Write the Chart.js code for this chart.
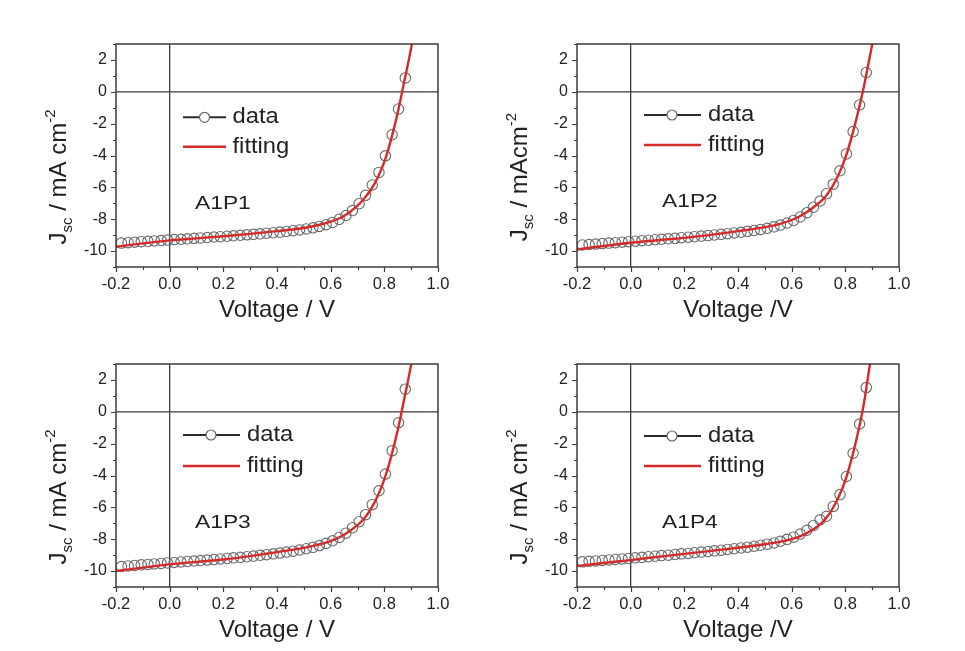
<!DOCTYPE html>
<html>
<head>
<meta charset="utf-8">
<script src="https://cdn.jsdelivr.net/npm/chart.js@4.4.0/dist/chart.umd.min.js"></script>
<style>
  html, body { margin: 0; padding: 0; background: #fff; }
  #wrap { position: relative; width: 965px; height: 651px; }
  #wrap canvas { position: absolute; left: 0; top: 0; }
</style>
</head>
<body>
<div id="wrap">
  <canvas id="p1" width="965" height="651"></canvas>
  <canvas id="p2" width="965" height="651"></canvas>
  <canvas id="p3" width="965" height="651"></canvas>
  <canvas id="p4" width="965" height="651"></canvas>
</div>
<script>
// measured points (V)
const dataVoltage = [-0.18, -0.155, -0.131, -0.106, -0.081, -0.057, -0.032, -0.008, 0.017, 0.042,
  0.066, 0.091, 0.115, 0.140, 0.165, 0.189, 0.214, 0.238, 0.263, 0.288,
  0.312, 0.337, 0.361, 0.386, 0.411, 0.435, 0.460, 0.484, 0.509, 0.534,
  0.558, 0.583, 0.607, 0.632, 0.657, 0.681, 0.706, 0.730, 0.755, 0.780,
  0.804, 0.829, 0.853, 0.878];
// fitted curve (V)
const fitVoltage = [-0.2, -0.1, 0, 0.1, 0.2, 0.3, 0.4, 0.5, 0.55, 0.6,
  0.65, 0.7, 0.725, 0.75, 0.775, 0.8, 0.825, 0.85, 0.87, 0.89, 0.91];

// current density (mA cm-2)
const a1p1Data = [-9.50, -9.47, -9.44, -9.41, -9.39, -9.36, -9.34, -9.31, -9.28, -9.26,
  -9.23, -9.20, -9.18, -9.15, -9.12, -9.10, -9.07, -9.04, -9.01, -8.98,
  -8.95, -8.92, -8.88, -8.85, -8.81, -8.77, -8.72, -8.67, -8.61, -8.54,
  -8.45, -8.34, -8.20, -8.01, -7.77, -7.46, -7.03, -6.50, -5.85, -5.06,
  -4.02, -2.70, -1.08, 0.87];
const a1p1Fit = [-9.73, -9.52, -9.33, -9.20, -9.07, -8.92, -8.75, -8.55, -8.38, -8.15,
  -7.80, -7.15, -6.70, -6.15, -5.40, -4.40, -3.00, -1.30, 0.30, 1.90, 3.60];

const a1p2Data = [-9.62, -9.59, -9.56, -9.53, -9.50, -9.47, -9.44, -9.41, -9.38, -9.35,
  -9.32, -9.29, -9.26, -9.23, -9.20, -9.16, -9.13, -9.10, -9.06, -9.03,
  -8.99, -8.95, -8.91, -8.86, -8.82, -8.76, -8.71, -8.64, -8.57, -8.48,
  -8.37, -8.24, -8.08, -7.86, -7.59, -7.25, -6.86, -6.40, -5.80, -4.96,
  -3.90, -2.50, -0.83, 1.21];
const a1p2Fit = [-9.90, -9.68, -9.48, -9.32, -9.17, -8.98, -8.75, -8.50, -8.32, -8.05,
  -7.62, -7.00, -6.60, -6.00, -5.20, -4.15, -2.75, -1.10, 0.40, 2.10, 3.80];

const a1p3Data = [-9.72, -9.68, -9.65, -9.61, -9.58, -9.55, -9.52, -9.49, -9.46, -9.43,
  -9.40, -9.37, -9.34, -9.31, -9.28, -9.24, -9.21, -9.17, -9.14, -9.10,
  -9.06, -9.01, -8.97, -8.92, -8.87, -8.81, -8.75, -8.68, -8.60, -8.51,
  -8.40, -8.26, -8.10, -7.89, -7.62, -7.28, -6.90, -6.46, -5.83, -4.96,
  -3.91, -2.44, -0.69, 1.42];
const a1p3Fit = [-10.00, -9.78, -9.58, -9.42, -9.27, -9.06, -8.81, -8.54, -8.36, -8.12,
  -7.72, -7.12, -6.70, -6.10, -5.30, -4.25, -2.85, -1.15, 0.45, 2.10, 3.80];

const a1p4Data = [-9.42, -9.39, -9.36, -9.33, -9.30, -9.27, -9.24, -9.21, -9.17, -9.14,
  -9.10, -9.07, -9.03, -9.00, -8.96, -8.92, -8.89, -8.85, -8.81, -8.77,
  -8.73, -8.69, -8.64, -8.60, -8.55, -8.50, -8.44, -8.38, -8.31, -8.23,
  -8.13, -8.01, -7.87, -7.68, -7.44, -7.14, -6.78, -6.56, -5.94, -5.20,
  -4.06, -2.60, -0.77, 1.52];
const a1p4Fit = [-9.69, -9.49, -9.31, -9.11, -8.92, -8.73, -8.54, -8.32, -8.18, -8.00,
  -7.68, -7.15, -6.75, -6.15, -5.35, -4.30, -2.85, -1.10, 0.60, 2.80, 4.80];

const legendNames = ['data', 'fitting'];

const panels = [
  { id: 'p1', name: 'A1P1', data: a1p1Data, fit: a1p1Fit, unit: ' / mA cm', xTitle: 'Voltage / V',
    box: { left: 116, top: 44, right: 438, bottom: 267 },
    legend: { x0: 67, x1: 110, mark: 88.5, text: 116.5, y1: 73.3, y2: 102.7 }, label: { x: 79, y: 160 } },
  { id: 'p2', name: 'A1P2', data: a1p2Data, fit: a1p2Fit, unit: ' / mAcm', xTitle: 'Voltage /V',
    box: { left: 577, top: 44, right: 899, bottom: 267 },
    legend: { x0: 67, x1: 124, mark: 95, text: 131, y1: 71, y2: 101 }, label: { x: 85, y: 158 } },
  { id: 'p3', name: 'A1P3', data: a1p3Data, fit: a1p3Fit, unit: ' / mA cm', xTitle: 'Voltage / V',
    box: { left: 116, top: 364, right: 438, bottom: 587 },
    legend: { x0: 67, x1: 124, mark: 95, text: 131, y1: 71, y2: 102 }, label: { x: 79, y: 159 } },
  { id: 'p4', name: 'A1P4', data: a1p4Data, fit: a1p4Fit, unit: ' / mA cm', xTitle: 'Voltage /V',
    box: { left: 577, top: 364, right: 899, bottom: 587 },
    legend: { x0: 67, x1: 124, mark: 95, text: 131, y1: 72, y2: 102 }, label: { x: 85, y: 159 } }
];

const SANS = '"Liberation Sans", Arial, sans-serif';
const Y_AXIS_W = 70;
const X_AXIS_H = 60;

const isMajorX = (v) => Math.round(v * 10) % 2 === 0;
const isMajorY = (v) => Math.round(v) % 2 === 0;

function wideText(ctx, txt, x, y, sx) {
  ctx.save();
  ctx.translate(x, y);
  ctx.scale(sx, 1);
  ctx.fillText(txt, 0, 0);
  ctx.restore();
}

const decor = {
  id: 'decor',
  beforeDatasetsDraw(chart) {
    const ctx = chart.ctx, a = chart.chartArea;
    const x0 = chart.scales.x.getPixelForValue(0);
    const y0 = chart.scales.y.getPixelForValue(0);
    ctx.save();
    ctx.strokeStyle = '#3c3c3c';
    ctx.lineWidth = 1.3;
    ctx.beginPath();
    ctx.moveTo(x0, a.top); ctx.lineTo(x0, a.bottom);
    ctx.moveTo(a.left, y0); ctx.lineTo(a.right, y0);
    ctx.stroke();
    ctx.restore();
  },
  afterDraw(chart, args, opts) {
    const ctx = chart.ctx, a = chart.chartArea;
    const xs = chart.scales.x, ys = chart.scales.y;
    const p = opts.panel;
    ctx.save();
    // frame
    ctx.strokeStyle = '#3c3c3c';
    ctx.lineWidth = 1.5;
    ctx.strokeRect(a.left, a.top, a.right - a.left, a.bottom - a.top);
    // outward ticks
    ctx.lineWidth = 1.2;
    ctx.beginPath();
    xs.ticks.forEach(t => {
      const px = Math.round(xs.getPixelForValue(t.value)) + 0.5;
      ctx.moveTo(px, a.bottom);
      ctx.lineTo(px, a.bottom + (isMajorX(t.value) ? 5 : 3));
    });
    ys.ticks.forEach(t => {
      const py = Math.round(ys.getPixelForValue(t.value)) + 0.5;
      ctx.moveTo(a.left, py);
      ctx.lineTo(a.left - (isMajorY(t.value) ? 5 : 3), py);
    });
    ctx.stroke();

    ctx.fillStyle = '#222';
    // x title
    ctx.font = '24px ' + SANS;
    ctx.textAlign = 'center';
    ctx.textBaseline = 'alphabetic';
    ctx.fillText(p.xTitle, (a.left + a.right) / 2, a.bottom + 50);

    // y title: J_sc / mA cm^-2
    const big = '24px ' + SANS, small = '15px ' + SANS;
    ctx.save();
    ctx.translate(a.left - 50, a.top + 133);
    ctx.rotate(-Math.PI / 2);
    ctx.textAlign = 'left';
    ctx.font = big; const wJ = ctx.measureText('J').width; const wU = ctx.measureText(p.unit).width;
    ctx.font = small; const wS = ctx.measureText('sc').width; const wP = ctx.measureText('-2').width;
    let cx = -(wJ + wS + wU + wP) / 2;
    ctx.font = big; ctx.fillText('J', cx, 0); cx += wJ;
    ctx.font = small; ctx.fillText('sc', cx, 6); cx += wS;
    ctx.font = big; ctx.fillText(p.unit, cx, 0); cx += wU;
    ctx.font = small; ctx.fillText('-2', cx, -11);
    ctx.restore();

    // legend
    const L = p.legend;
    ctx.lineWidth = 2;
    ctx.strokeStyle = '#2a2a2a';
    ctx.beginPath();
    ctx.moveTo(a.left + L.x0, a.top + L.y1); ctx.lineTo(a.left + L.x1, a.top + L.y1);
    ctx.stroke();
    ctx.beginPath();
    ctx.arc(a.left + L.mark, a.top + L.y1, 5, 0, Math.PI * 2);
    ctx.fillStyle = '#fff';
    ctx.fill();
    ctx.lineWidth = 1.2;
    ctx.strokeStyle = '#666';
    ctx.stroke();
    ctx.lineWidth = 2.4;
    ctx.strokeStyle = '#d42a2a';
    ctx.beginPath();
    ctx.moveTo(a.left + L.x0, a.top + L.y2); ctx.lineTo(a.left + L.x1, a.top + L.y2);
    ctx.stroke();
    ctx.fillStyle = '#222';
    ctx.font = '22px ' + SANS;
    ctx.textAlign = 'left';
    wideText(ctx, legendNames[0], a.left + L.text, a.top + L.y1 + 6, 1.08);
    wideText(ctx, legendNames[1], a.left + L.text, a.top + L.y2 + 6, 1.08);

    // sample label
    ctx.font = '19px ' + SANS;
    ctx.textBaseline = 'middle';
    wideText(ctx, p.name, a.left + p.label.x, a.top + p.label.y, 1.2);
    ctx.restore();
  }
};

panels.forEach(p => {
  const b = p.box;
  new Chart(document.getElementById(p.id), {
    type: 'scatter',
    data: {
      datasets: [
        {
          label: legendNames[1],
          data: fitVoltage.map((v, i) => ({ x: v, y: p.fit[i] })),
          showLine: true,
          borderColor: '#d42a2a',
          borderWidth: 2.4,
          pointRadius: 0,
          cubicInterpolationMode: 'monotone',
          order: 0
        },
        {
          label: legendNames[0],
          data: dataVoltage.map((v, i) => ({ x: v, y: p.data[i] })),
          showLine: false,
          pointRadius: 5.2,
          pointBorderWidth: 1.1,
          pointBorderColor: '#6a6a6a',
          pointBackgroundColor: 'rgba(255,255,255,0)',
          order: 1
        }
      ]
    },
    options: {
      responsive: false,
      animation: false,
      events: [],
      layout: {
        padding: { left: b.left - Y_AXIS_W, top: b.top, right: 965 - b.right, bottom: 651 - b.bottom - X_AXIS_H }
      },
      scales: {
        x: {
          type: 'linear',
          min: -0.2, max: 1.0,
          grid: { display: false, drawTicks: false },
          border: { display: false },
          ticks: {
            stepSize: 0.1,
            autoSkip: false,
            maxRotation: 0,
            padding: 8,
            color: '#222',
            font: { family: SANS, size: 16.5 },
            callback: (v) => isMajorX(v) ? (Math.round(v * 10) / 10).toFixed(1) : ''
          },
          afterFit: (s) => { s.height = X_AXIS_H; }
        },
        y: {
          type: 'linear',
          min: -11, max: 3,
          grid: { display: false, drawTicks: false },
          border: { display: false },
          ticks: {
            stepSize: 1,
            autoSkip: false,
            padding: 9,
            color: '#222',
            font: { family: SANS, size: 16 },
            callback: (v) => isMajorY(v) ? String(v) : ''
          },
          afterFit: (s) => { s.width = Y_AXIS_W; }
        }
      },
      plugins: {
        legend: { display: false },
        tooltip: { enabled: false },
        decor: { panel: p }
      }
    },
    plugins: [decor]
  });
});
</script>
</body>
</html>
